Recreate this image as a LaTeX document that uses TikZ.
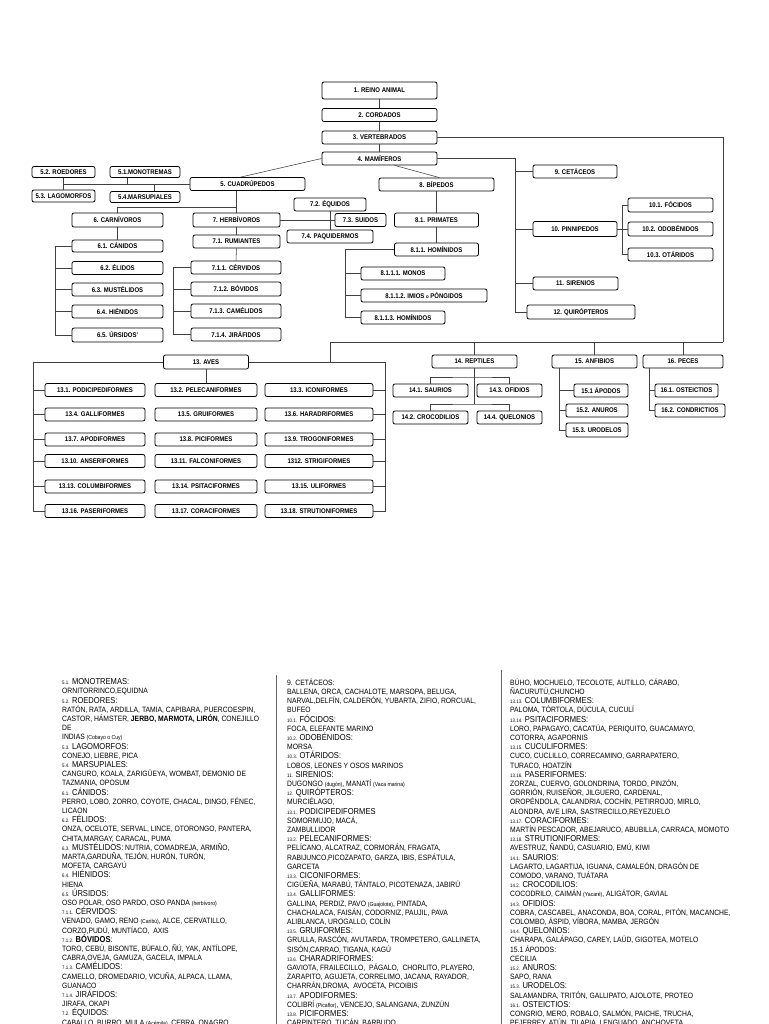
\documentclass[tikz,border=0pt]{standalone}
\usepackage{fontspec}
\setmainfont{Liberation Sans}
\newfontfamily\cond[FakeStretch=0.88]{Liberation Sans}
\newcommand{\hd}[2]{{\fontsize{5}{9.2}\selectfont #1} {\fontsize{8.6}{9.2}\selectfont #2}}
\newcommand{\sm}[1]{{\fontsize{5.8}{9.2}\selectfont #1}}
\AtBeginDocument{\lineskiplimit=-10pt}

\begin{document}
\begin{tikzpicture}[x=1pt,y=-1pt,
    box/.style={draw, rounded corners=2pt, line width=0.75pt, fill=white,
      minimum height=13pt, inner sep=0pt,
      font=\cond\bfseries\fontsize{6.8}{7}\selectfont},
    ln/.style={line width=0.55pt, draw=black!75},
    sep/.style={line width=0.8pt, draw=black!60},
    txt/.style={inner sep=0pt, align=left, anchor=north west,
      font=\cond\fontsize{7.7}{9.2}\selectfont}]
  \fill[white] (0,0) rectangle (768,1024);
  \useasboundingbox (0,0) rectangle (768,1024);

  % trunk
  \node[box, minimum width=115pt, minimum height=17pt] (reino) at (379.5,90.5) {1. REINO ANIMAL};
  \node[box, minimum width=115pt] (cordados) at (379.5,115) {2. CORDADOS};
  \node[box, minimum width=115pt] (vertebrados) at (379.5,137.5) {3. VERTEBRADOS};
  \node[box, minimum width=115pt] (mamiferos) at (379.5,158.5) {4. MAMÍFEROS};
  \node[box, minimum width=115pt] (cuadrupedos) at (247.5,184) {5. CUADRÚPEDOS};
  \node[box, minimum width=115pt] (bipedos) at (436.5,184.5) {8. BÍPEDOS};

  % cuadrupedos
  \node[box, minimum width=63pt, minimum height=11pt] (roedores) at (63.5,172) {5.2. ROEDORES};
  \node[box, minimum width=70pt, minimum height=11pt] (monotremas) at (145,172) {5.1.MONOTREMAS};
  \node[box, minimum width=63pt, minimum height=12pt] (lagomorfos) at (63.5,196) {5.3. LAGOMORFOS};
  \node[box, minimum width=70pt, minimum height=11pt] (marsupiales) at (145,197) {5.4.MARSUPIALES};
  \node[box, minimum width=91pt, minimum height=14pt] (carnivoros) at (117.5,220) {6. CARNÍVOROS};
  \node[box, minimum width=87pt, minimum height=14pt] (herbivoros) at (236.5,220) {7. HERBÍVOROS};
  \node[box, minimum width=72pt] (equidos) at (330,204.5) {7.2. ÉQUIDOS};
  \node[box, minimum width=51pt] (suidos) at (360.5,220) {7.3. SUIDOS};
  \node[box, minimum width=86pt] (paquidermos) at (330,236.5) {7.4. PAQUIDERMOS};
  \node[box, minimum width=87pt] (rumiantes) at (236.5,241.5) {7.1. RUMIANTES};
  \node[box, minimum width=91pt, minimum height=12pt] (canidos) at (117.5,246) {6.1. CÁNIDOS};
  \node[box, minimum width=91pt] (elidos) at (117.5,268) {6.2. ÉLIDOS};
  \node[box, minimum width=91pt] (mustelidos) at (117.5,289.5) {6.3. MUSTÉLIDOS};
  \node[box, minimum width=91pt] (hienidos) at (117.5,311.5) {6.4. HIÉNIDOS};
  \node[box, minimum width=91pt, minimum height=14pt] (ursidos) at (117.5,335) {6.5. ÚRSIDOS'};
  \node[box, minimum width=90pt] (cervidos) at (236,267.5) {7.1.1. CÉRVIDOS};
  \node[box, minimum width=90pt, minimum height=14pt] (bovidos) at (236,289) {7.1.2. BÓVIDOS};
  \node[box, minimum width=90pt, minimum height=14pt] (camelidos) at (236,311) {7.1.3. CAMÉLIDOS};
  \node[box, minimum width=90pt] (jirafidos) at (236,334.5) {7.1.4. JIRÁFIDOS};

  % bipedos
  \node[box, minimum width=84pt, minimum height=14pt] (primates) at (436.5,220) {8.1. PRIMATES};
  \node[box, minimum width=84pt] (homi) at (436.5,249.5) {8.1.1. HOMÍNIDOS};
  \node[box, minimum width=84pt] (monos) at (403,273.5) {8.1.1.1. MONOS};
  \node[box, minimum width=126pt] (imios) at (424,295.5) {8.1.1.2. IMIOS {\fontsize{5}{6}\selectfont o} PÓNGIDOS};
  \node[box, minimum width=84pt] (homi3) at (403,317.5) {8.1.1.3. HOMÍNIDOS};

  % right branch
  \node[box, minimum width=84pt] (cetaceos) at (575,171.5) {9. CETÁCEOS};
  \node[box, minimum width=84pt, minimum height=15pt] (pinnipedos) at (575,229) {10. PINNIPEDOS};
  \node[box, minimum width=85pt, minimum height=14pt] (focidos) at (670.5,205) {10.1. FÓCIDOS};
  \node[box, minimum width=85pt, minimum height=14pt] (odobenidos) at (670.5,229) {10.2. ODOBÉNIDOS};
  \node[box, minimum width=85pt] (otaridos) at (670.5,254.5) {10.3. OTÁRIDOS};
  \node[box, minimum width=85pt] (sirenios) at (575.5,283.5) {11. SIRENIOS};
  \node[box, minimum width=108pt, minimum height=14pt] (quiropteros) at (581,312) {12. QUIRÓPTEROS};

  % lower classes
  \node[box, minimum width=85pt, minimum height=14pt] (aves) at (206,362) {13. AVES};
  \node[box, minimum width=85pt] (reptiles) at (474.5,361.5) {14. REPTILES};
  \node[box, minimum width=85pt] (anfibios) at (594.5,361.5) {15. ANFIBIOS};
  \node[box, minimum width=80pt] (peces) at (683,361.5) {16. PECES};
  \node[box, minimum width=75pt] (saurios) at (430.5,390.5) {14.1. SAURIOS};
  \node[box, minimum width=65pt] (ofidios) at (509.5,390.5) {14.3. OFIDIOS};
  \node[box, minimum width=75pt] (crocodilios) at (430.5,417.5) {14.2. CROCODILIOS};
  \node[box, minimum width=65pt] (quelonios) at (509.5,417.5) {14.4. QUELONIOS};
  \node[box, minimum width=54pt] (apodos) at (601,390.5) {15.1 ÁPODOS};
  \node[box, minimum width=62pt] (anuros) at (597,410.5) {15.2. ANUROS};
  \node[box, minimum width=62pt, minimum height=14pt] (urodelos) at (597,430) {15.3. URODELOS};
  \node[box, minimum width=63pt] (osteictios) at (686.5,390.5) {16.1. OSTEICTIOS};
  \node[box, minimum width=70pt] (condrictios) at (690,410.5) {16.2. CONDRICTIOS};

  % aves grid
  \foreach \lab [count=\i from 0] in {13.1. PODICIPEDIFORMES, 13.2. PELECANIFORMES, 13.3. ICONIFORMES,
      13.4. GALLIFORMES, 13.5. GRUIFORMES, 13.6. HARADRIFORMES,
      13.7. APODIFORMES, 13.8. PICIFORMES, 13.9. TROGONIFORMES,
      13.10. ANSERIFORMES, 13.11. FALCONIFORMES, 1312. STRIGIFORMES,
      13.13. COLUMBIFORMES, 13.14. PSITACIFORMES, 13.15. ULIFORMES,
      13.16. PASERIFORMES, 13.17. CORACIFORMES, 13.18. STRUTIONIFORMES}{
    \pgfmathtruncatemacro\rr{div(\i,3)}
    \pgfmathtruncatemacro\cc{mod(\i,3)}
    \pgfmathsetmacro\gx{{95,206,319}[\cc]}
    \pgfmathsetmacro\gw{{100,102,108}[\cc]}
    \pgfmathsetmacro\gy{{390,414.5,439.5,461,486.5,511}[\rr]}
    \pgfmathtruncatemacro\nn{\i+1}
    \node[box, minimum width=\gw pt] (a\nn) at (\gx,\gy) {\lab};
  }

  \coordinate (lf) at (330,342);
  \coordinate (rt) at (723,342);
  \coordinate (al) at (33,362);
  \coordinate (ar) at (385,362);
  \coordinate (mv) at (515,200);

  % connectors
  \draw[ln] (reino.south) -- (cordados.north);
  \draw[ln] (cordados.south) -- (vertebrados.north);
  \draw[ln] (vertebrados.south) -- (mamiferos.north);
  \draw[ln] (vertebrados.east) -| (rt);
  \draw[ln] (lf) -- (rt);
  \draw[ln] (mamiferos.west) -- ([xshift=-7pt]cuadrupedos.north);
  \draw[ln] ([xshift=15pt]mamiferos.south) -- ([xshift=3pt]bipedos.north);
  \draw[ln] (mamiferos.east) -- (mamiferos.east -| mv) |- (quiropteros.west);
  \foreach \n in {cetaceos,pinnipedos,sirenios}
    \draw[ln] (\n.west -| mv) -- (\n.west);
  \draw[ln] (pinnipedos.east) -- (odobenidos.west);
  \draw[ln] (focidos.west) -- ++(-5,0) |- (otaridos.west);

  \draw[ln] (cuadrupedos.west) -- (cuadrupedos.west -| roedores.south);
  \draw[ln] (roedores.south) -- (lagomorfos.north);
  \draw[ln] ([xshift=-18pt]monotremas.south) -- ([xshift=-18pt]monotremas.south |- cuadrupedos.west);
  \draw[ln] ([xshift=9pt]marsupiales.north) -- ([xshift=9pt]marsupiales.north |- cuadrupedos.west);
  \draw[ln] (herbivoros.north |- cuadrupedos.south) -- (herbivoros.north);
  \draw[ln] (carnivoros.north) |- ([yshift=5pt]herbivoros.north);
  \draw[ln] (herbivoros.east) -- (suidos.west);
  \draw[ln] (equidos.south) -- (paquidermos.north);
  \draw[ln] (herbivoros.south) -- (rumiantes.north);
  \draw[ln] (carnivoros.south) -- (canidos.north);
  \draw[ln] (canidos.west) -- ++(-16,0) |- (ursidos.west);
  \foreach \n in {elidos,mustelidos,hienidos}
    \draw[ln] (\n.west) -- ++(-16,0);
  \draw[ln] (rumiantes.south) -- (cervidos.north);
  \draw[ln] (cervidos.west) -- ++(-17,0) |- (jirafidos.west);
  \foreach \n in {bovidos,camelidos}
    \draw[ln] (\n.west) -- ++(-17,0);

  \draw[ln] (bipedos.south) -- (primates.north);
  \draw[ln] (primates.south) -- (homi.north);
  \draw[ln] (homi.west) -- ++(-49,0) |- (homi3.west);
  \foreach \n in {monos,imios}
    \draw[ln] (\n.west) -- ++(-16,0);

  \draw[ln] (al) -- (aves.west);
  \draw[ln] (aves.east) -- (ar);
  \draw[ln] (lf) -- (lf |- ar);
  \draw[ln] (aves.south) -- (a2.north);
  \draw[ln] (al) |- (a16.west);
  \draw[ln] (ar) |- (a18.east);
  \foreach \n in {1,4,7,10,13}
    \draw[ln] (a\n.west) -- (a\n.west -| al);
  \foreach \n in {3,6,9,12,15}
    \draw[ln] (a\n.east) -- (a\n.east -| ar);

  \foreach \n in {reptiles,anfibios,peces}
    \draw[ln] (\n.north |- lf) -- (\n.north);
  \coordinate (r1) at (474.5,377);
  \coordinate (r2) at (474.5,404);
  \draw[ln] (reptiles.south) -- (r2);
  \draw[ln] (saurios.north) |- (r1) -| (ofidios.north);
  \draw[ln] (crocodilios.north) |- (r2) -| (quelonios.north);
  \draw[ln] ([xshift=-35.5pt]anfibios.south) |- (urodelos.west);
  \draw[ln] (apodos.west) -- ++(-15,0);
  \draw[ln] (anuros.west) -- ++(-7,0);
  \draw[ln] ([xshift=-34pt]peces.south) |- (condrictios.west);
  \draw[ln] (osteictios.west) -- ++(-6,0);

  % text columns
  \coordinate (s1a) at (276,675);
  \coordinate (s1b) at (276,1024);
  \coordinate (s2a) at (501,670);
  \coordinate (s2b) at (501,1024);
  \draw[sep] (s1a) -- (s1b);
  \draw[sep] (s2a) -- (s2b);

  \node[txt] (col1) at (62,678.5) {\hd{5.1.}{MONOTREMAS:}\\
    ORNITORRINCO,EQUIDNA\\
    \hd{5.2.}{ROEDORES:}\\
    RATÓN, RATA, ARDILLA, TAMIA, CAPIBARA, PUERCOESPIN,\\
    CASTOR, HÁMSTER, \textbf{JERBO, MARMOTA, LIRÓN}, CONEJILLO\\
    DE\\
    INDIAS \sm{(Cobayo o Cuy)}\\
    \hd{5.3.}{LAGOMORFOS:}\\
    CONEJO, LIEBRE, PICA\\
    \hd{5.4.}{MARSUPIALES:}\\
    CANGURO, KOALA, ZARIGÜEYA, WOMBAT, DEMONIO DE\\
    TAZMANIA, OPOSUM\\
    \hd{6.1.}{CÁNIDOS:}\\
    PERRO, LOBO, ZORRO, COYOTE, CHACAL, DINGO, FÉNEC,\\
    LICAON\\
    \hd{6.2.}{FÉLIDOS:}\\
    ONZA, OCELOTE, SERVAL, LINCE, OTORONGO, PANTERA,\\
    CHITA,MARGAY, CARACAL, PUMA\\
    \hd{6.3.}{MUSTÉLIDOS:} NUTRIA, COMADREJA, ARMIÑO,\\
    MARTA,GARDUÑA, TEJÓN, HURÓN, TURÓN,\\
    MOFETA, CARGAYÚ\\
    \hd{6.4.}{HIÉNIDOS:}\\
    HIENA\\
    \hd{6.5.}{ÚRSIDOS:}\\
    OSO POLAR, OSO PARDO, OSO PANDA \sm{(herbívoro)}\\
    \hd{7.1.1.}{CÉRVIDOS:}\\
    VENADO, GAMO, RENO \sm{(Caribú)}, ALCE, CERVATILLO,\\
    CORZO,PUDÚ, MUNTÍACO,\ \ AXIS\\
    \hd{7.1.2.}{\textbf{BÓVIDOS}:}\\
    TORO, CEBÚ, BISONTE, BÚFALO, ÑÚ, YAK, ANTÍLOPE,\\
    CABRA,OVEJA, GAMUZA, GACELA, IMPALA\\
    \hd{7.1.3.}{CAMÉLIDOS:}\\
    CAMELLO, DROMEDARIO, VICUÑA, ALPACA, LLAMA,\\
    GUANACO\\
    \hd{7.1.4.}{JIRÁFIDOS:}\\
    JIRAFA, OKAPI\\
    \hd{7.2.}{ÉQUIDOS:}\\
    CABALLO, BURRO, MULA \sm{(Acémila)}, CEBRA, ONAGRO};

  \node[txt] (col2) at (287,678.5) {9. CETÁCEOS:\\
    BALLENA, ORCA, CACHALOTE, MARSOPA, BELUGA,\\
    NARVAL,DELFÍN, CALDERÓN, YUBARTA, ZIFIO, RORCUAL,\\
    BUFEO\\
    \hd{10.1.}{FÓCIDOS:}\\
    FOCA, ELEFANTE MARINO\\
    \hd{10.2.}{ODOBÉNIDOS:}\\
    MORSA\\
    \hd{10.3.}{OTÁRIDOS:}\\
    LOBOS, LEONES Y OSOS MARINOS\\
    \hd{11.}{SIRENIOS:}\\
    DUGONGO \sm{(dugón)}, MANATÍ \sm{(Vaca marina)}\\
    \hd{12.}{QUIRÓPTEROS:}\\
    MURCIÉLAGO,\\
    \hd{13.1.}{PODICIPEDIFORMES}\\
    SOMORMUJO, MACÁ,\\
    ZAMBULLIDOR\\
    \hd{13.2.}{PELECANIFORMES:}\\
    PELÍCANO, ALCATRAZ, CORMORÁN, FRAGATA,\\
    RABIJUNCO,PICOZAPATO, GARZA, IBIS, ESPÁTULA,\\
    GARCETA\\
    \hd{13.3.}{CICONIFORMES:}\\
    CIGÜEÑA, MARABÚ, TÁNTALO, PICOTENAZA, JABIRÚ\\
    \hd{13.4.}{GALLIFORMES:}\\
    GALLINA, PERDIZ, PAVO \sm{(Guajolote)}, PINTADA,\\
    CHACHALACA, FAISÁN, CODORNIZ, PAUJIL, PAVA\\
    ALIBLANCA, UROGALLO, COLÍN\\
    \hd{13.5.}{GRUIFORMES:}\\
    GRULLA, RASCÓN, AVUTARDA, TROMPETERO, GALLINETA,\\
    SISÓN,CARRAO, TIGANA, KAGÚ\\
    \hd{13.6.}{CHARADRIFORMES:}\\
    GAVIOTA, FRAILECILLO,\ \ PÁGALO,\ \ CHORLITO, PLAYERO,\\
    ZARAPITO, AGUJETA, CORRELIMO, JACANA, RAYADOR,\\
    CHARRÁN,DROMA,\ \ AVOCETA, PICOIBIS\\
    \hd{13.7.}{APODIFORMES:}\\
    COLIBRÍ \sm{(Picaflor)}, VENCEJO, SALANGANA, ZUNZÚN\\
    \hd{13.8.}{PICIFORMES:}\\
    CARPINTERO, TUCÁN, BARBUDO};

  \node[txt] (col3) at (510,678.5) {BÚHO, MOCHUELO, TECOLOTE, AUTILLO, CÁRABO,\\
    ÑACURUTÚ,CHUNCHO\\
    \hd{13.13.}{COLUMBIFORMES:}\\
    PALOMA, TÓRTOLA, DÚCULA, CUCULÍ\\
    \hd{13.14.}{PSITACIFORMES:}\\
    LORO, PAPAGAYO, CACATÚA, PERIQUITO, GUACAMAYO,\\
    COTORRA, AGAPORNIS\\
    \hd{13.15.}{CUCULIFORMES:}\\
    CUCO, CUCLILLO, CORRECAMINO, GARRAPATERO,\\
    TURACO, HOATZÍN\\
    \hd{13.16.}{PASERIFORMES:}\\
    ZORZAL, CUERVO, GOLONDRINA, TORDO, PINZÓN,\\
    GORRIÓN, RUISEÑOR, JILGUERO, CARDENAL,\\
    OROPÉNDOLA, CALANDRIA, COCHÍN, PETIRROJO, MIRLO,\\
    ALONDRA, AVE LIRA, SASTRECILLO,REYEZUELO\\
    \hd{13.17.}{CORACIFORMES:}\\
    MARTÍN PESCADOR, ABEJARUCO, ABUBILLA, CARRACA, MOMOTO\\
    \hd{13.18.}{STRUTIONIFORMES:}\\
    AVESTRUZ, ÑANDÚ, CASUARIO, EMÚ, KIWI\\
    \hd{14.1.}{SAURIOS:}\\
    LAGARTO, LAGARTIJA, IGUANA, CAMALEÓN, DRAGÓN DE\\
    COMODO, VARANO, TUÁTARA\\
    \hd{14.2.}{CROCODILIOS:}\\
    COCODRILO, CAIMÁN \sm{(Yacaré)}, ALIGÁTOR, GAVIAL\\
    \hd{14.3.}{OFIDIOS:}\\
    COBRA, CASCABEL, ANACONDA, BOA, CORAL, PITÓN, MACANCHE,\\
    COLOMBO, ÁSPID, VÍBORA, MAMBA, JERGÓN\\
    \hd{14.4.}{QUELONIOS:}\\
    CHARAPA, GALÁPAGO, CAREY, LAÚD, GIGOTEA, MOTELO\\
    15.1 ÁPODOS:\\
    CECILIA\\
    \hd{15.2.}{ANUROS:}\\
    SAPO, RANA\\
    \hd{15.3.}{URODELOS:}\\
    SALAMANDRA, TRITÓN, GALLIPATO, AJOLOTE, PROTEO\\
    \hd{16.1.}{OSTEICTIOS:}\\
    CONGRIO, MERO, ROBALO, SALMÓN, PAICHE, TRUCHA,\\
    PEJERREY, ATÚN, TILAPIA, LENGUADO, ANCHOVETA,};
\end{tikzpicture}
\end{document}
